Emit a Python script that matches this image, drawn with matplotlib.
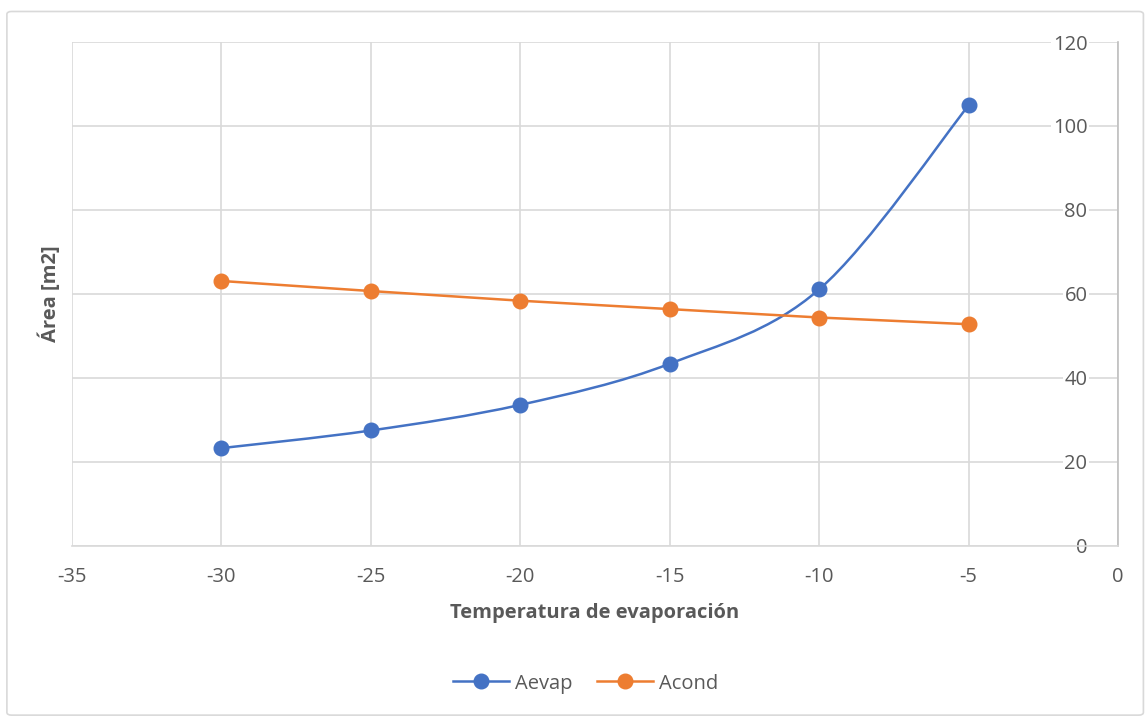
import matplotlib
matplotlib.use("Agg")
import matplotlib.pyplot as plt
from matplotlib.path import Path
from matplotlib.patches import PathPatch, FancyBboxPatch
from matplotlib.lines import Line2D

# data
temp = [-30, -25, -20, -15, -10, -5]
aevap = [23.3, 27.5, 33.6, 43.4, 61.1, 104.9]
acond = [63.1, 60.7, 58.4, 56.4, 54.4, 52.8]

xticks = [-35, -30, -25, -20, -15, -10, -5, 0]
yticks = [0, 20, 40, 60, 80, 100, 120]

blue = '#4472C4'
orange = '#ED7D31'
grey_txt = '#595959'
grid_c = '#D9D9D9'

plt.rcParams['font.family'] = ['Open Sans', 'DejaVu Sans']
plt.rcParams['axes.unicode_minus'] = False


def smooth_path(xs, ys):
    # Excel style smoothed line: cubic bezier segments (Catmull-Rom control points)
    verts = [(xs[0], ys[0])]
    codes = [Path.MOVETO]
    n = len(xs)
    for i in range(n - 1):
        p0 = (xs[max(i - 1, 0)], ys[max(i - 1, 0)])
        p1 = (xs[i], ys[i])
        p2 = (xs[i + 1], ys[i + 1])
        p3 = (xs[min(i + 2, n - 1)], ys[min(i + 2, n - 1)])
        c1 = (p1[0] + (p2[0] - p0[0]) / 6, p1[1] + (p2[1] - p0[1]) / 6)
        c2 = (p2[0] - (p3[0] - p1[0]) / 6, p2[1] - (p3[1] - p1[1]) / 6)
        verts += [c1, c2, p2]
        codes += [Path.CURVE4] * 3
    return Path(verts, codes)


fig = plt.figure(figsize=(11.48, 7.18), dpi=100)
border = FancyBboxPatch((0.006, 0.004), 0.99, 0.98, boxstyle='round,pad=0,rounding_size=0.004',
                        transform=fig.transFigure, facecolor='white', edgecolor='#D9D9D9', lw=1.2, zorder=-10)
fig.patches.append(border)

ax = fig.add_axes([0.0627, 0.2396, 0.9112, 0.7019])
ax.set_xlim(-35, 0)
ax.set_ylim(0, 120)
ax.set_xticks(xticks)
ax.set_yticks(yticks)
ax.grid(True, color=grid_c, lw=1.2)
ax.set_axisbelow(True)

for s in ['top', 'left']:
    ax.spines[s].set_visible(False)
ax.spines['bottom'].set_color(grid_c)
ax.spines['bottom'].set_linewidth(1.2)
ax.spines['right'].set_color('#BFBFBF')
ax.spines['right'].set_linewidth(1.2)

ax.yaxis.tick_right()
ax.tick_params(axis='y', length=0, labelsize=14.5, labelcolor=grey_txt, pad=-22)
for lab in ax.get_yticklabels():
    lab.set_horizontalalignment('right')
    lab.set_bbox(dict(facecolor='white', edgecolor='none', pad=1))
ax.tick_params(axis='x', length=0, labelsize=14.5, labelcolor=grey_txt, pad=15)

ax.add_patch(PathPatch(smooth_path(temp, aevap), facecolor='none', edgecolor=blue, lw=1.8, zorder=3))
ax.plot(temp, aevap, ls='none', marker='o', ms=10.5, color=blue, zorder=4)
ax.plot(temp, acond, color=orange, lw=1.8, marker='o', ms=10.5, zorder=4)

ax.set_xlabel('Temperatura de evaporación', fontsize=14.5, fontweight='bold', color=grey_txt, labelpad=12)
ax.set_ylabel('Área [m2]', fontsize=14.5, fontweight='bold', color=grey_txt, labelpad=8)

handles = [Line2D([], [], color=blue, lw=1.8, marker='o', ms=10.5),
           Line2D([], [], color=orange, lw=1.8, marker='o', ms=10.5)]
fig.legend(handles, ['Aevap', 'Acond'], loc='center', bbox_to_anchor=(0.51, 0.048), ncol=2, frameon=False,
           fontsize=14.5, labelcolor=grey_txt, handlelength=2.8, columnspacing=1.2, handletextpad=0.3)

fig.savefig('out.png', dpi=100, facecolor='white')
